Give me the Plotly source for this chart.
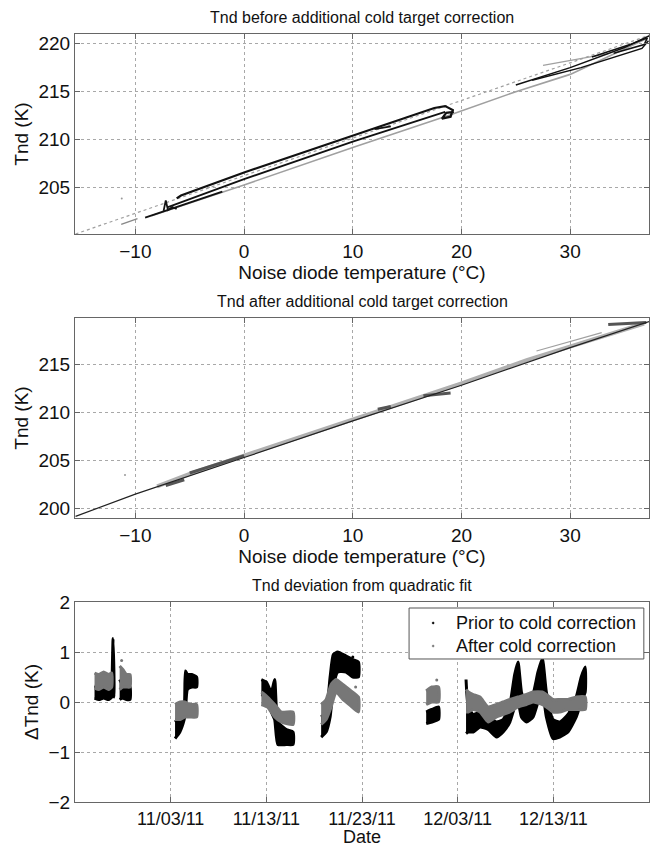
import plotly.graph_objects as go

# ---------------- Panel 1: Tnd before correction (x = noise diode temp degC, y = Tnd K)
p1_gray_upper_x = [-15.5, -9.6, 0.0, 10.0, 20.0, 30.0, 37.25]
p1_gray_upper_y = [200.2, 202.5, 206.3, 210.2, 214.1, 218.0, 220.86]
p1_gray_lower_x = [-8.5, 0.0, 10.0, 19.0, 25.0, 30.0, 37.0]
p1_gray_lower_y = [202.1, 205.3, 209.2, 212.6, 215.0, 216.8, 220.5]
p1_gray_short_x = [-11.3, -9.8]
p1_gray_short_y = [201.2, 201.8]
p1_gray_top_x = [27.5, 33.5]
p1_gray_top_y = [217.74, 218.96]
p1_black1_x = [-6.2, -5.8, 0.0, 10.0, 17.5, 18.5, 19.2, 19.0, 18.2, 18.6, 19.3]
p1_black1_y = [203.9, 204.2, 206.6, 210.4, 213.3, 213.5, 213.1, 212.4, 212.2, 212.8, 212.9]
p1_black2_x = [-7.0, 0.0, 10.0, 18.5]
p1_black2_y = [203.0, 205.9, 209.8, 212.9]
p1_black3_x = [-9.1, -5.0, -2.0]
p1_black3_y = [201.9, 203.5, 204.6]
p1_black4_x = [-7.4, -7.2, -7.0, -6.6, -6.2]
p1_black4_y = [202.6, 203.7, 202.7, 203.0, 202.8]
p1_black5_x = [12.0, 13.5]
p1_black5_y = [211.1, 211.4]
p1_black6_x = [25.0, 30.0, 35.0, 37.25]
p1_black6_y = [215.7, 217.5, 219.6, 220.8]
p1_black7_x = [26.5, 31.0, 36.6, 37.2]
p1_black7_y = [216.2, 217.5, 219.5, 220.3]
p1_black8_x = [32.0, 35.5, 37.1, 36.8, 34.0]
p1_black8_y = [218.6, 219.9, 220.6, 219.9, 219.0]
p1_dot_x = [-11.25]
p1_dot_y = [203.9]

# ---------------- Panel 2: Tnd after correction
p2_main_x = [-15.5, -10.0, 0.0, 10.0, 20.0, 30.0, 37.25]
p2_main_y = [199.2, 201.5, 205.3, 209.1, 212.8, 216.7, 219.4]
p2_band_x = [-8.0, -5.0, 0.0, 10.0, 20.0, 26.0, 30.0, 36.8]
p2_band_y = [202.3, 203.6, 205.5, 209.3, 213.0, 215.4, 216.8, 219.2]
p2_dark1_x = [-7.2, -5.5]
p2_dark1_y = [202.4, 203.0]
p2_dark2_x = [-5.0, 0.0]
p2_dark2_y = [203.7, 205.5]
p2_dark3_x = [12.3, 13.5]
p2_dark3_y = [210.3, 210.6]
p2_dark4_x = [16.5, 19.0]
p2_dark4_y = [211.7, 212.0]
p2_dark5_x = [33.5, 37.0]
p2_dark5_y = [219.1, 219.3]
p2_gray_top_x = [26.9, 32.9]
p2_gray_top_y = [216.35, 218.26]
p2_dot_x = [-10.95]
p2_dot_y = [203.5]

# ---------------- Panel 3: deviation from quadratic fit (band envelopes per data segment)
prior_segments = [
    (["2011-10-26 01:00", "2011-10-26 12:00", "2011-10-27 00:00", "2011-10-27 12:00", "2011-10-27 20:00"],
     [0.08, 0.05, 0.08, 0.05, 0.10], [0.32, 0.30, 0.35, 0.30, 0.33]),
    (["2011-10-27 21:00", "2011-10-27 23:30", "2011-10-28 02:00"],
     [0.10, 0.20, 0.10], [0.40, 1.27, 0.40]),
    (["2011-10-28 16:00", "2011-10-29 00:00", "2011-10-29 09:00", "2011-10-29 18:00"],
     [0.05, 0.08, 0.05, 0.05], [0.45, 0.35, 0.35, 0.30]),
    (["2011-11-03 11:00", "2011-11-03 23:00", "2011-11-04 10:00", "2011-11-04 13:00", "2011-11-04 18:00",
      "2011-11-05 05:00", "2011-11-05 17:00"],
     [-0.73, -0.60, -0.35, -0.20, 0.25, 0.30, 0.30], [-0.40, -0.30, -0.10, 0.62, 0.55, 0.55, 0.50]),
    (["2011-11-12 11:30", "2011-11-13 00:00", "2011-11-13 12:30", "2011-11-13 21:00", "2011-11-14 05:00",
      "2011-11-15 02:00", "2011-11-15 19:00"],
     [0.15, 0.10, -0.20, -0.35, -0.85, -0.85, -0.85], [0.45, 0.40, 0.20, 0.45, -0.40, -0.55, -0.60]),
    (["2011-11-18 17:30", "2011-11-19 06:00", "2011-11-19 16:00", "2011-11-20 00:00", "2011-11-20 11:00",
      "2011-11-21 08:00", "2011-11-22 01:00", "2011-11-22 15:00"],
     [-0.70, -0.60, -0.30, 0.30, 0.60, 0.60, 0.50, 0.50], [-0.30, -0.20, 0.50, 0.95, 1.00, 0.92, 0.85, 0.80]),
    (["2011-11-29 17:00", "2011-11-30 07:00", "2011-12-01 00:00"],
     [-0.43, -0.40, -0.35], [-0.20, -0.15, -0.10]),
    (["2011-12-03 21:00", "2011-12-04 02:40", "2011-12-04 15:00", "2011-12-05 08:00", "2011-12-06 04:30",
      "2011-12-07 01:30", "2011-12-07 18:00", "2011-12-08 11:00", "2011-12-08 23:00", "2011-12-09 07:30",
      "2011-12-09 16:00", "2011-12-10 04:30", "2011-12-10 21:00", "2011-12-11 09:30", "2011-12-11 20:30",
      "2011-12-12 06:30", "2011-12-12 23:00", "2011-12-13 16:00", "2011-12-14 12:45", "2011-12-15 09:30",
      "2011-12-15 22:00", "2011-12-16 08:00"],
     [-0.63, -0.60, -0.60, -0.50, -0.55, -0.70, -0.60, -0.40, -0.10, 0.00, -0.30, -0.40, -0.30, 0.00, 0.20,
      -0.30, -0.73, -0.70, -0.60, -0.30, 0.00, 0.20],
     [0.45, -0.10, -0.25, -0.20, -0.30, -0.40, -0.35, -0.05, 0.55, 0.80, 0.20, -0.10, 0.15, 0.60, 0.87,
      0.20, -0.35, -0.40, -0.25, 0.10, 0.50, 0.70]),
]
after_segments = [
    (["2011-10-26 01:00", "2011-10-26 12:00", "2011-10-27 00:00", "2011-10-27 12:00", "2011-10-27 20:00"],
     [0.28, 0.25, 0.30, 0.25, 0.30], [0.58, 0.55, 0.60, 0.55, 0.58]),
    (["2011-10-28 16:00", "2011-10-29 00:00", "2011-10-29 09:00", "2011-10-29 18:00"],
     [0.25, 0.30, 0.30, 0.30], [0.72, 0.65, 0.55, 0.55]),
    (["2011-11-03 11:00", "2011-11-04 00:00", "2011-11-04 12:00", "2011-11-05 00:00", "2011-11-05 17:00"],
     [-0.35, -0.35, -0.30, -0.30, -0.30], [-0.05, 0.00, 0.00, -0.05, -0.05]),
    (["2011-11-12 11:30", "2011-11-13 03:00", "2011-11-13 21:00", "2011-11-14 13:30", "2011-11-15 19:00"],
     [-0.05, -0.10, -0.30, -0.40, -0.45], [0.20, 0.10, -0.05, -0.20, -0.20]),
    (["2011-11-18 17:30", "2011-11-19 06:00", "2011-11-19 18:30", "2011-11-20 07:00", "2011-11-21 00:00",
      "2011-11-21 16:00", "2011-11-22 15:00"],
     [-0.45, -0.35, -0.10, 0.20, 0.05, -0.05, -0.20], [-0.05, 0.05, 0.35, 0.45, 0.35, 0.25, 0.10]),
    (["2011-11-29 17:00", "2011-11-30 07:00", "2011-12-01 00:00"],
     [-0.05, 0.00, 0.00], [0.22, 0.30, 0.30]),
    (["2011-12-03 21:00", "2011-12-04 02:40", "2011-12-04 15:00", "2011-12-05 08:00", "2011-12-06 04:30",
      "2011-12-07 01:30", "2011-12-07 18:00", "2011-12-08 11:00", "2011-12-09 07:30", "2011-12-10 04:30",
      "2011-12-10 21:00", "2011-12-11 20:30", "2011-12-12 06:30", "2011-12-12 23:00", "2011-12-13 16:00",
      "2011-12-14 12:45", "2011-12-15 09:30", "2011-12-16 08:00"],
     [-0.20, -0.20, -0.15, -0.20, -0.40, -0.30, -0.25, -0.20, -0.10, -0.05, 0.00, -0.05, -0.10, -0.20, -0.20,
      -0.15, -0.15, -0.15],
     [0.25, 0.20, 0.15, 0.10, -0.10, -0.05, 0.00, 0.05, 0.10, 0.15, 0.20, 0.20, 0.15, 0.05, 0.05,
      0.05, 0.10, 0.10]),
]
prior_dots_t = ["2011-11-22 01:00"]
prior_dots_y = [0.90]
after_dots_t = ["2011-10-28 21:00", "2011-11-30 19:30", "2011-11-22 08:00"]
after_dots_y = [0.83, 0.44, 0.30]

date_tickvals = ["2011-11-03", "2011-11-13", "2011-11-23", "2011-12-03", "2011-12-13"]
date_ticktext = ["11/03/11", "11/13/11", "11/23/11", "12/03/11", "12/13/11"]

legend_names = ["Prior to cold correction", "After cold correction"]

BLACK = "#000000"
GRAY_LINE = "#a0a0a0"
GRAY_BAND = "#777777"
FONT = "Liberation Sans"

fig = go.Figure()


def line(x, y, color, width, axis, dash=None):
    fig.add_trace(go.Scatter(x=x, y=y, mode="lines", line=dict(color=color, width=width, dash=dash),
                             xaxis="x" + axis, yaxis="y" + axis, showlegend=False, hoverinfo="skip"))


# Panel 1
line(p1_gray_upper_x, p1_gray_upper_y, GRAY_LINE, 1.2, "", "dot")
line(p1_gray_lower_x, p1_gray_lower_y, GRAY_LINE, 1.6, "")
line(p1_gray_short_x, p1_gray_short_y, "#888888", 1.4, "")
line(p1_gray_top_x, p1_gray_top_y, GRAY_LINE, 1.2, "")
for xs, ys, w in [(p1_black1_x, p1_black1_y, 2.2), (p1_black2_x, p1_black2_y, 1.8),
                  (p1_black3_x, p1_black3_y, 1.8), (p1_black4_x, p1_black4_y, 1.8),
                  (p1_black5_x, p1_black5_y, 1.8), (p1_black6_x, p1_black6_y, 1.5),
                  (p1_black7_x, p1_black7_y, 1.5), (p1_black8_x, p1_black8_y, 1.5)]:
    line(xs, ys, "#111111", w, "")
fig.add_trace(go.Scatter(x=p1_dot_x, y=p1_dot_y, mode="markers", marker=dict(color="#999", size=2),
                         showlegend=False, hoverinfo="skip"))

# Panel 2
line(p2_band_x, p2_band_y, "#b0b0b0", 4.0, "2")
line(p2_gray_top_x, p2_gray_top_y, GRAY_LINE, 1.2, "2")
for xs, ys in [(p2_dark1_x, p2_dark1_y), (p2_dark2_x, p2_dark2_y), (p2_dark3_x, p2_dark3_y),
               (p2_dark4_x, p2_dark4_y), (p2_dark5_x, p2_dark5_y)]:
    line(xs, ys, "#555555", 3.0, "2")
line(p2_main_x, p2_main_y, "#222222", 1.2, "2")
fig.add_trace(go.Scatter(x=p2_dot_x, y=p2_dot_y, mode="markers", marker=dict(color="#999", size=2),
                         xaxis="x2", yaxis="y2", showlegend=False, hoverinfo="skip"))


# Panel 3
def band(seg, color):
    t, lo, hi = seg
    fig.add_trace(go.Scatter(x=list(t) + list(t)[::-1], y=list(hi) + list(lo)[::-1], mode="lines",
                             fill="toself", fillcolor=color,
                             line=dict(color=color, width=3, shape="spline", smoothing=0.5),
                             xaxis="x3", yaxis="y3", showlegend=False, hoverinfo="skip"))


for s in prior_segments:
    band(s, BLACK)
for s in after_segments:
    band(s, GRAY_BAND)
fig.add_trace(go.Scatter(x=prior_dots_t, y=prior_dots_y, mode="markers", marker=dict(color=BLACK, size=3),
                         xaxis="x3", yaxis="y3", showlegend=False, hoverinfo="skip"))
fig.add_trace(go.Scatter(x=after_dots_t, y=after_dots_y, mode="markers", marker=dict(color=GRAY_BAND, size=3),
                         xaxis="x3", yaxis="y3", showlegend=False, hoverinfo="skip"))

axis_common = dict(showline=True, linecolor="#666666", linewidth=1, mirror="ticks", ticks="inside",
                   ticklen=5, tickcolor="#666666", showgrid=True, gridcolor="#a8a8a8", griddash="dot",
                   gridwidth=1, zeroline=False, automargin=False,
                   tickfont=dict(family=FONT, size=19, color="#111"))
title_font = dict(family=FONT, size=19, color="#111")

d1 = [0.7396, 1.0]
d2 = [0.3698, 0.6302]
d3 = [0.0, 0.2604]

# page body adds an 8px offset, so the figure is 8px smaller than the window
fig.update_layout(
    width=657, height=839,
    margin=dict(l=67, r=16, t=26, b=45, autoexpand=False),
    paper_bgcolor="white", plot_bgcolor="white",
    font=dict(family=FONT, color="#111"),
    showlegend=False,
    xaxis=dict(axis_common, domain=[0, 1], anchor="y", range=[-15.55, 37.25],
               tickvals=[-10, 0, 10, 20, 30],
               title=dict(text="Noise diode temperature (°C)", font=title_font, standoff=0)),
    yaxis=dict(axis_common, domain=d1, anchor="x", range=[200.2, 221.0], tickvals=[205, 210, 215, 220],
               title=dict(text="Tnd (K)", font=title_font, standoff=4)),
    xaxis2=dict(axis_common, domain=[0, 1], anchor="y2", range=[-15.55, 37.25],
                tickvals=[-10, 0, 10, 20, 30],
                title=dict(text="Noise diode temperature (°C)", font=title_font, standoff=0)),
    yaxis2=dict(axis_common, domain=d2, anchor="x2", range=[199.03, 219.77], tickvals=[200, 205, 210, 215],
                title=dict(text="Tnd (K)", font=title_font, standoff=4)),
    xaxis3=dict(axis_common, domain=[0, 1], anchor="y3", type="date",
                range=["2011-10-24", "2011-12-23"], tickvals=date_tickvals, ticktext=date_ticktext,
                tickfont=dict(family=FONT, size=18, color="#111"),
                title=dict(text="Date", font=dict(family=FONT, size=18, color="#111"), standoff=1)),
    yaxis3=dict(axis_common, domain=d3, anchor="x3", range=[-2, 2], tickvals=[-2, -1, 0, 1, 2],
                title=dict(text="ΔTnd (K)", font=title_font, standoff=4)),
)

# legend box (drawn as in the reference)
fig.add_shape(type="rect", xref="paper", yref="paper", x0=0.582, x1=0.991, y0=0.1862, y1=0.2526,
              line=dict(color="#555555", width=1), fillcolor="white", layer="above")
for i, (name, col) in enumerate(zip(legend_names, [BLACK, GRAY_BAND])):
    yc = 0.2331 - i * 0.0300
    fig.add_shape(type="circle", xref="paper", yref="paper", x0=0.6222, x1=0.6257,
                  y0=yc - 0.0013, y1=yc + 0.0013, line=dict(color=col, width=0.5), fillcolor=col,
                  layer="above")
    fig.add_annotation(text=name, xref="paper", yref="paper", x=0.660, y=yc, xanchor="left",
                       yanchor="middle", showarrow=False, font=dict(family=FONT, size=18, color="#111"))

titles = [("Tnd before additional cold target correction", d1[1]),
          ("Tnd after additional cold target correction", d2[1]),
          ("Tnd deviation from quadratic fit", d3[1])]
for text, ytop in titles:
    fig.add_annotation(text=text, xref="paper", yref="paper", x=0.5, y=ytop, xanchor="center",
                       yanchor="bottom", yshift=6, showarrow=False,
                       font=dict(family=FONT, size=16, color="#111"))

fig.write_html("out.html")
